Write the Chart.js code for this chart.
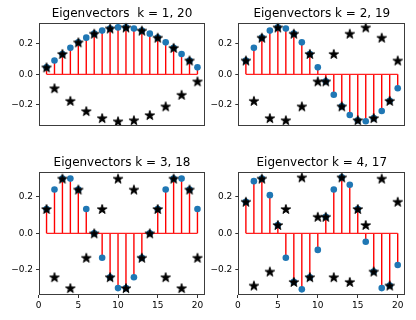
<!DOCTYPE html>
<html>
<head>
<meta charset="utf-8">
<script src="https://cdn.jsdelivr.net/npm/chart.js@4.4.1/dist/chart.umd.min.js"></script>
<style>
  html, body { margin: 0; padding: 0; background: #fff; }
  #wrap { position: relative; width: 416px; height: 320px; }
  #wrap canvas { position: absolute; left: 0; top: 0; }
</style>
</head>
<body>
<div id="wrap">
  <canvas id="c1" width="416" height="320"></canvas>
  <canvas id="c2" width="416" height="320"></canvas>
  <canvas id="c3" width="416" height="320"></canvas>
  <canvas id="c4" width="416" height="320"></canvas>
</div>
<script>
// sample index
const idx = [1, 2, 3, 4, 5, 6, 7, 8, 9, 10, 11, 12, 13, 14, 15, 16, 17, 18, 19, 20];

// stems (low k) and stars (high k)
const vec1  = [0.046, 0.091, 0.134, 0.174, 0.210, 0.241, 0.267, 0.287, 0.301, 0.308, 0.308, 0.301, 0.287, 0.267, 0.241, 0.210, 0.174, 0.134, 0.091, 0.046];
const vec20 = [0.046, -0.091, 0.134, -0.174, 0.210, -0.241, 0.267, -0.287, 0.301, -0.308, 0.308, -0.301, 0.287, -0.267, 0.241, -0.210, 0.174, -0.134, 0.091, -0.046];
const vec2  = [0.091, 0.174, 0.241, 0.287, 0.308, 0.301, 0.267, 0.210, 0.134, 0.046, -0.046, -0.134, -0.210, -0.267, -0.301, -0.308, -0.287, -0.241, -0.174, -0.091];
const vec19 = [0.091, -0.174, 0.241, -0.287, 0.308, -0.301, 0.267, -0.210, 0.134, -0.046, -0.046, 0.134, -0.210, 0.267, -0.301, 0.308, -0.287, 0.241, -0.174, 0.091];
const vec3  = [0.134, 0.241, 0.301, 0.301, 0.241, 0.134, 0, -0.134, -0.241, -0.301, -0.301, -0.241, -0.134, 0, 0.134, 0.241, 0.301, 0.301, 0.241, 0.134];
const vec18 = [0.134, -0.241, 0.301, -0.301, 0.241, -0.134, 0, 0.134, -0.241, 0.301, -0.301, 0.241, -0.134, 0, 0.134, -0.241, 0.301, -0.301, 0.241, -0.134];
const vec4  = [0.174, 0.287, 0.301, 0.210, 0.046, -0.134, -0.267, -0.308, -0.241, -0.091, 0.091, 0.241, 0.308, 0.267, 0.134, -0.046, -0.210, -0.301, -0.287, -0.174];
const vec17 = [0.174, -0.287, 0.301, -0.210, 0.046, 0.134, -0.267, 0.308, -0.241, 0.091, 0.091, -0.241, 0.308, -0.267, 0.134, 0.046, -0.210, 0.301, -0.287, 0.174];

const titles = ['Eigenvectors  k = 1, 20', 'Eigenvectors k = 2, 19', 'Eigenvectors k = 3, 18', 'Eigenvector k = 4, 17'];
const yTicks = [-0.2, 0, 0.2];
const xTicks = [0, 5, 10, 15, 20];

const FONT = 'DejaVu Sans';

// filled 5-point star, like matplotlib's '*'
function makeStar(size) {
  const c = document.createElement('canvas');
  c.width = size; c.height = size;
  const g = c.getContext('2d');
  const R = size / 2 - 1, r = R * 0.382, cx = size / 2, cy = size / 2 + 0.5;
  g.beginPath();
  for (let i = 0; i < 10; i++) {
    const rad = i % 2 ? r : R;
    const a = -Math.PI / 2 + i * Math.PI / 5;
    g.lineTo(cx + rad * Math.cos(a), cy + rad * Math.sin(a));
  }
  g.closePath();
  g.fillStyle = '#000';
  g.fill();
  g.lineWidth = 1;
  g.lineJoin = 'round';
  g.strokeStyle = '#000';
  g.stroke();
  return c;
}
const star = makeStar(12);

const framePlugin = {
  id: 'frame',
  afterDatasetsDraw(chart) {
    const a = chart.chartArea, ctx = chart.ctx;
    ctx.save();
    ctx.strokeStyle = '#3c3c3c';
    ctx.lineWidth = 1;
    ctx.strokeRect(Math.round(a.left) + 0.5, Math.round(a.top) + 0.5,
      Math.round(a.right - a.left) - 1, Math.round(a.bottom - a.top) - 1);
    ctx.restore();
  }
};

function stemPoints(vals) {
  const pts = [];
  vals.forEach((v, i) => {
    pts.push({ x: idx[i], y: 0 }, { x: idx[i], y: v }, { x: idx[i], y: null });
  });
  return pts;
}

function drawPanel(id, stems, stars, title, box, showX) {
  const pad = {
    left: box.left - 36,
    right: 416 - box.right,
    top: box.top - 16.4,
    bottom: showX ? 320 - box.bottom - 20 : 320 - box.bottom
  };
  new Chart(document.getElementById(id), {
    type: 'line',
    data: {
      datasets: [
        { data: stars.map((v, i) => ({ x: idx[i], y: v })), type: 'scatter', order: 0,
          pointStyle: star, pointRadius: 6, showLine: false },
        { data: stems.map((v, i) => ({ x: idx[i], y: v })), type: 'scatter', order: 1,
          pointRadius: 3.3, pointBackgroundColor: '#1f77b4', pointBorderWidth: 0, showLine: false },
        { data: [{ x: idx[0], y: 0 }, { x: idx[idx.length - 1], y: 0 }], order: 2,
          borderColor: '#ff2020', borderWidth: 1.4, pointRadius: 0 },
        { data: stemPoints(stems), order: 3, spanGaps: false,
          borderColor: '#ff0000', borderWidth: 1.4, pointRadius: 0 }
      ]
    },
    options: {
      responsive: false,
      animation: false,
      devicePixelRatio: 1,
      layout: { padding: pad },
      plugins: {
        legend: { display: false },
        tooltip: { enabled: false },
        title: {
          display: true, text: title, color: '#000', fullSize: false,
          font: { family: FONT, size: 12, weight: 'normal' },
          padding: { top: 0, bottom: 2 }
        }
      },
      scales: {
        x: {
          type: 'linear', min: 0.05, max: 20.95,
          display: showX,
          afterBuildTicks: (s) => { s.ticks = xTicks.map((v) => ({ value: v })); },
          afterFit: (s) => { s.height = 20; },
          border: { display: false },
          grid: { drawOnChartArea: false, drawTicks: true, tickLength: 3, color: '#333' },
          ticks: { color: '#000', padding: 2, maxRotation: 0, font: { family: FONT, size: 9 }, callback: (v) => String(v) }
        },
        y: {
          min: -0.339, max: 0.339,
          afterBuildTicks: (s) => { s.ticks = yTicks.map((v) => ({ value: v })); },
          afterFit: (s) => { s.width = 36; },
          border: { display: false },
          grid: { drawOnChartArea: false, drawTicks: true, tickLength: 3, color: '#333' },
          ticks: { color: '#000', padding: 3, font: { family: FONT, size: 9 },
            callback: (v) => v.toFixed(1).replace('-', '\u2212') }
        }
      }
    },
    plugins: [framePlugin]
  });
}

drawPanel('c1', vec1, vec20, titles[0], { left: 39, right: 205, top: 22.7, bottom: 146 }, false);
drawPanel('c2', vec2, vec19, titles[1], { left: 238.3, right: 405.3, top: 22.7, bottom: 146 }, false);
drawPanel('c3', vec3, vec18, titles[2], { left: 39, right: 205, top: 171.7, bottom: 295 }, true);
drawPanel('c4', vec4, vec17, titles[3], { left: 238.3, right: 405.3, top: 171.7, bottom: 295 }, true);
</script>
</body>
</html>
